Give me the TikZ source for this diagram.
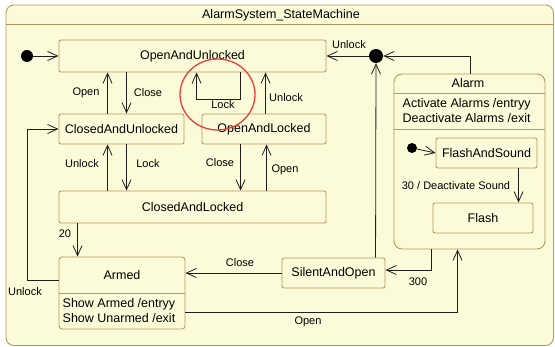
\documentclass[tikz,border=0pt]{standalone}
\usepackage{fontspec}
\setmainfont{Liberation Sans}
\usetikzlibrary{arrows.meta,calc}
\definecolor{fillc}{HTML}{FBFBD9}
\definecolor{bordc}{HTML}{B8995A}
\definecolor{linec}{HTML}{1E1E1E}
\definecolor{redc}{HTML}{E8403A}
\tikzset{
  statebox/.style={draw=bordc, fill=fillc, line width=0.9pt, rounded corners=2pt, inner sep=0pt,
    font=\fontsize{12.5}{15}\selectfont},
  lbl/.style={font=\fontsize{11}{13}\selectfont, inner sep=0pt, text=black},
  txt/.style={font=\fontsize{12.5}{15}\selectfont, inner sep=0pt, text=black},
  arr/.style={draw=linec, line width=0.8pt, -{Straight Barb[length=10pt,width=9pt,line width=0.8pt]}},
  conn/.style={draw=linec, line width=0.8pt},
  dot/.style={circle, fill=black, inner sep=0pt},
}
\begin{document}
\begin{tikzpicture}[x=1pt,y=-1pt]
\useasboundingbox[fill=white] (0,0) rectangle (555,347);
% frame
\node[statebox, rounded corners=8pt, minimum width=547.5pt, minimum height=340.5pt] (frame) at (279.75,175.25) {};
\draw[bordc, line width=0.9pt] (frame.west |- 0,24) -- (frame.east |- 0,24);
\node[txt] (title) at (281,15) {AlarmSystem\_StateMachine};

% states
\node[statebox, minimum width=267pt, minimum height=32pt] (oau) at (192.5,56) {OpenAndUnlocked};
\node[statebox, minimum width=125pt, minimum height=30pt] (cau) at (121.5,129) {ClosedAndUnlocked};
\node[statebox, minimum width=124pt, minimum height=30pt] (oal) at (264,129) {OpenAndLocked};
\node[statebox, minimum width=267pt, minimum height=32pt] (cal) at (192.5,207) {ClosedAndLocked};
\node[statebox, rounded corners=3pt, minimum width=126pt, minimum height=72pt] (armed) at (122,293) {};
\draw[bordc, line width=0.9pt] (armed.west) -- (armed.east);
\node[txt] (armedt) at (122,275) {Armed};
\node[txt, anchor=west] (armede) at (62.5,304) {Show Armed /entryy};
\node[txt, anchor=west] (armedx) at (62.5,318) {Show Unarmed /exit};
\node[statebox, minimum width=103pt, minimum height=30pt] (sao) at (333.5,273) {SilentAndOpen};

\node[statebox, rounded corners=8pt, minimum width=151pt, minimum height=175pt] (alarm) at (469.5,161.5) {};
\draw[bordc, line width=0.9pt] (alarm.west |- 0,93) -- (alarm.east |- 0,93);
\draw[bordc, line width=0.9pt] (alarm.west |- 0,129) -- (alarm.east |- 0,129);
\node[txt] (alarmt) at (468,83) {Alarm};
\node[txt, anchor=west] (alarme) at (402.5,104) {Activate Alarms /entryy};
\node[txt, anchor=west] (alarmx) at (402.5,118) {Deactivate Alarms /exit};
\node[statebox, minimum width=101pt, minimum height=30pt] (fas) at (486.5,153) {FlashAndSound};
\node[statebox, minimum width=100pt, minimum height=30pt] (flash) at (483,218) {Flash};

% pseudo states
\node[dot, minimum size=12pt] (init) at (27,56) {};
\node[dot, minimum size=10pt] (init2) at (412,148) {};
\node[dot, minimum size=14pt] (junc) at (376,56) {};

% transitions
\draw[arr] (init) -- (oau.west);
\draw[arr] ([xshift=49pt]cau.north west) -- ([xshift=49pt]cau.north west |- oau.south);
\draw[arr] ([xshift=68pt]cau.north west |- oau.south) -- ([xshift=68pt]cau.north west);
\node[lbl] (l1) at (86,93) {Open};
\node[lbl] (l2) at (148,93) {Close};

\draw[arr] ([xshift=182pt]oau.south west) -- ++(0,27) -| ([xshift=138pt]oau.south west);
\node[lbl] (l3) at (223,105) {Lock};

\draw[arr] ([xshift=64pt]oal.north west) -- ([xshift=64pt]oal.north west |- oau.south);
\node[lbl, anchor=west] (l4) at (269,98) {Unlock};

\draw[arr] ([xshift=49pt]cal.north west) -- ([xshift=49pt]cal.north west |- cau.south);
\draw[arr] ([xshift=68pt]cal.north west |- cau.south) -- ([xshift=68pt]cal.north west);
\node[lbl] (l5) at (82,164) {Unlock};
\node[lbl] (l6) at (148,164) {Lock};

\draw[arr] ([xshift=39pt]oal.south west) -- ([xshift=39pt]oal.south west |- cal.north);
\draw[arr] ([xshift=65pt]oal.south west |- cal.north) -- ([xshift=65pt]oal.south west);
\node[lbl] (l7) at (220,163) {Close};
\node[lbl] (l8) at (285,170) {Open};

\draw[arr] ([xshift=19pt]cal.south west) -- ([xshift=19pt]cal.south west |- armed.north);
\node[lbl] (l9) at (65,234) {20};

\draw[arr] ([yshift=13pt]armed.west) -| (27,129) -- (cau.west);
\node[lbl] (l10) at (25,292) {Unlock};

\draw[arr] (sao.west) -- (sao.west -| armed.east);
\node[lbl] (l11) at (240,263) {Close};

\draw[arr] ([xshift=94pt]sao.north west) -- (junc.south);
\draw[arr] (junc.west) -- (oau.east);
\node[lbl] (l12) at (349,45) {Unlock};
\draw[arr] ([xshift=77pt]alarm.north west) |- (junc.east);

\draw[arr] ([xshift=38pt]alarm.south west) |- ([yshift=3pt]sao.east);
\node[lbl] (l13) at (418,282) {300};

\draw[arr] ([yshift=-19pt]armed.east) -| ([xshift=64pt]alarm.south west);
\node[lbl] (l14) at (308,322) {Open};

\draw[arr] (init2) -- (fas.west);
\draw[arr] ([xshift=83pt]fas.south west) -- ([xshift=83pt]fas.south west |- flash.north);
\node[lbl] (l15) at (456,186) {30 / Deactivate Sound};

% annotation
\draw[redc, line width=1.3pt] (217.5,94.5) ellipse [x radius=37.5pt, y radius=35.5pt];
\end{tikzpicture}
\end{document}
